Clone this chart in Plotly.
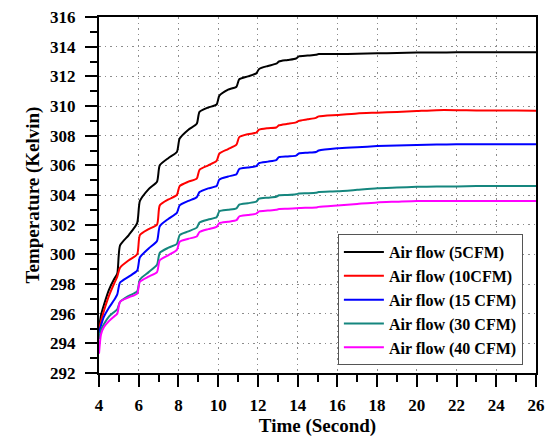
import plotly.graph_objects as go

time_s = [4.0, 4.1, 4.25, 4.5, 4.75, 4.92, 5.06, 5.5, 5.92, 6.06, 6.5, 6.92, 7.06, 7.5, 7.92,
          8.06, 8.5, 8.92, 9.06, 9.5, 9.92, 10.06, 10.5, 10.92, 11.06, 11.5, 11.92, 12.06, 12.5,
          12.92, 13.06, 13.5, 13.92, 14.06, 14.5, 14.92, 15.06, 16, 17, 18, 19, 20, 21, 22, 23,
          24, 25, 26]

temp_5cfm = [295.0, 295.9, 296.6, 297.6, 298.3, 298.7, 300.6, 301.3, 302.1, 303.6, 304.4, 304.9,
             306.0, 306.5, 306.9, 307.8, 308.4, 308.8, 309.6, 309.9, 310.1, 310.7, 311.1, 311.3,
             311.8, 312.0, 312.2, 312.5, 312.7, 312.85, 313.0, 313.1, 313.2, 313.35, 313.4,
             313.45, 313.5, 313.5, 313.52, 313.55, 313.57, 313.6, 313.6, 313.62, 313.63, 313.63,
             313.63, 313.63]

temp_10cfm = [294.9, 295.5, 296.2, 297.2, 298.0, 298.5, 299.1, 299.6, 300.0, 301.3, 301.7, 302.0,
              303.3, 303.7, 304.0, 304.6, 304.9, 305.1, 305.7, 306.0, 306.3, 306.8, 307.1, 307.4,
              307.9, 308.1, 308.2, 308.4, 308.5, 308.55, 308.7, 308.8, 308.9, 309.0, 309.1, 309.2,
              309.3, 309.4, 309.5, 309.55, 309.6, 309.66, 309.72, 309.72, 309.7, 309.7, 309.7,
              309.68]

temp_15cfm = [294.7, 295.2, 295.8, 296.4, 296.9, 297.3, 298.1, 298.5, 298.9, 299.8, 300.4, 300.9,
              301.9, 302.4, 302.8, 303.3, 303.6, 303.85, 304.2, 304.45, 304.6, 305.05, 305.25,
              305.4, 305.75, 305.85, 305.95, 306.15, 306.25, 306.35, 306.55, 306.6, 306.65, 306.8,
              306.85, 306.9, 307.0, 307.15, 307.22, 307.3, 307.34, 307.37, 307.4, 307.42, 307.42,
              307.42, 307.42, 307.42]

temp_30cfm = [294.3, 294.9, 295.3, 295.8, 296.1, 296.3, 296.8, 297.2, 297.5, 298.3, 298.8, 299.3,
              300.1, 300.45, 300.7, 301.3, 301.55, 301.8, 302.15, 302.35, 302.5, 302.9, 303.0,
              303.1, 303.35, 303.45, 303.55, 303.75, 303.82, 303.88, 303.98, 304.0, 304.05, 304.1,
              304.12, 304.15, 304.2, 304.25, 304.35, 304.45, 304.5, 304.55, 304.57, 304.58, 304.6,
              304.6, 304.6, 304.6]

temp_40cfm = [293.3, 294.6, 295.1, 295.5, 295.8, 296.0, 296.8, 297.1, 297.35, 298.15, 298.5, 298.8,
              299.6, 299.95, 300.3, 300.85, 301.05, 301.2, 301.5, 301.7, 301.85, 302.1, 302.2,
              302.3, 302.55, 302.65, 302.75, 302.9, 302.95, 303.0, 303.05, 303.07, 303.1, 303.12,
              303.14, 303.16, 303.2, 303.3, 303.4, 303.5, 303.55, 303.6, 303.6, 303.6, 303.6,
              303.6, 303.6, 303.6]

series_names = ["Air flow (5CFM)", "Air flow (10CFM)", "Air flow (15 CFM)",
                "Air flow (30 CFM)", "Air flow (40 CFM)"]
series_values = [temp_5cfm, temp_10cfm, temp_15cfm, temp_30cfm, temp_40cfm]
series_colors = ["#000000", "#ff0000", "#0000ff", "#15867e", "#ff00ff"]

x_ticks = [4, 6, 8, 10, 12, 14, 16, 18, 20, 22, 24, 26]
y_ticks = [292, 294, 296, 298, 300, 302, 304, 306, 308, 310, 312, 314, 316]

FONT = "Liberation Serif"

fig = go.Figure()
for name, vals, col in zip(series_names, series_values, series_colors):
    fig.add_trace(go.Scatter(x=time_s, y=vals, mode="lines", name=name,
                             line=dict(color=col, width=2, shape="spline", smoothing=0.6)))

axis_common = dict(
    showline=True, linecolor="black", linewidth=2, mirror=True,
    ticks="outside", ticklen=12, tickwidth=1.5, tickcolor="black",
    showgrid=True, gridcolor="#8c8c8c", griddash="1.5px,4px", gridwidth=1.3,
    zeroline=False, automargin=False, ticklabeloverflow="allow",
    tickfont=dict(family=FONT, size=17, color="black", weight="bold"),
)

fig.update_xaxes(
    range=[4, 26], tickmode="array", tickvals=x_ticks, ticktext=[str(v) for v in x_ticks],
    minor=dict(ticks="outside", ticklen=7, tickwidth=1.5, tickcolor="black", dtick=1, tick0=4,
               showgrid=False),
    ticklabelstandoff=4,
    title=dict(text="<b>Time (Second)</b>", font=dict(family=FONT, size=19, color="black"),
               standoff=2),
    **axis_common,
)
fig.update_yaxes(
    range=[292, 316], tickmode="array", tickvals=y_ticks, ticktext=[str(v) for v in y_ticks],
    minor=dict(ticks="outside", ticklen=7, tickwidth=1.5, tickcolor="black", dtick=1, tick0=292,
               showgrid=False),
    ticklabelstandoff=6,
    title=dict(text="<b>Temperature (Kelvin)</b>", font=dict(family=FONT, size=19, color="black"),
               standoff=5),
    **axis_common,
)

fig.update_layout(
    width=545, height=442,
    margin=dict(l=99, r=9, t=17, b=69),
    paper_bgcolor="white", plot_bgcolor="white",
    showlegend=True,
    legend=dict(x=0.97, y=0.022, xanchor="right", yanchor="bottom",
                bgcolor="white", bordercolor="#555555", borderwidth=1,
                font=dict(family=FONT, size=16, color="black", weight="bold"),
                tracegroupgap=0, itemwidth=40),
)

fig.write_html(
    "out.html",
    config={"displayModeBar": False},
    post_script="document.body.style.margin='0';document.body.style.padding='0';"
                "document.body.style.overflow='hidden';",
)
